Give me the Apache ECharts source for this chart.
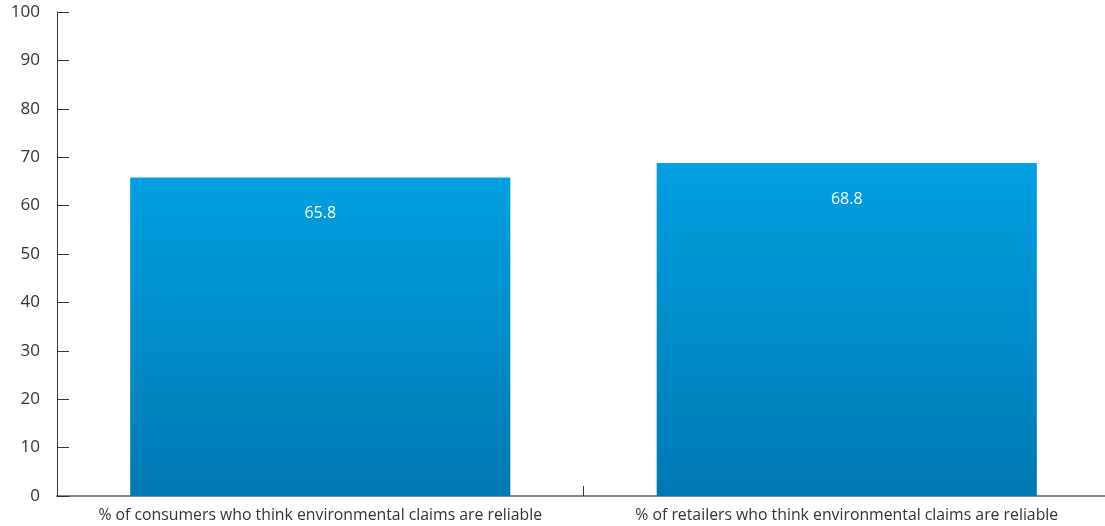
<!DOCTYPE html>
<html>
<head>
<meta charset="utf-8">
<script src="https://cdn.jsdelivr.net/npm/echarts@6/dist/echarts.min.js"></script>
<style>
  html, body { margin: 0; padding: 0; background: #fff; }
  #chart { width: 1105px; height: 526px; }
</style>
</head>
<body>
<div id="chart"></div>
<script>
// Share of respondents who consider environmental claims reliable
const categories = [
  '% of consumers who think environmental claims are reliable',
  '% of retailers who think environmental claims are reliable'
];
const values = [65.8, 68.8];
const yMin = 0;
const yMax = 100;
const yStep = 10;

const chart = echarts.init(document.getElementById('chart'), null, { renderer: 'canvas' });

const barColor = new echarts.graphic.LinearGradient(0, 0, 0, 1, [
  { offset: 0, color: '#009fe2' },
  { offset: 1, color: '#0079b3' }
]);

chart.setOption({
  animation: false,
  textStyle: { fontFamily: 'Open Sans' },
  grid: {
    left: 57, width: 1053, top: 12, height: 484,
    containLabel: false,
    outerBoundsMode: 'none'
  },
  xAxis: {
    type: 'category',
    data: categories,
    boundaryGap: true,
    axisLine: { show: true, lineStyle: { color: '#858585', width: 2 } },
    axisTick: { show: true, inside: true, length: 10, lineStyle: { color: '#333', width: 1 } },
    axisLabel: { color: '#333', fontSize: 15.8, margin: 11, interval: 0 }
  },
  yAxis: {
    type: 'value',
    min: yMin,
    max: yMax,
    interval: yStep,
    axisLine: { show: true, lineStyle: { color: '#333', width: 1 } },
    axisTick: { show: true, inside: true, length: 12, lineStyle: { color: '#333', width: 1 } },
    axisLabel: { color: '#333', fontSize: 17, margin: 17 },
    splitLine: { show: false }
  },
  series: [{
    type: 'bar',
    data: values,
    barWidth: '72.2%',
    itemStyle: { color: barColor },
    label: {
      show: true,
      position: 'insideTop',
      distance: 28,
      color: '#fff',
      fontSize: 16,
      formatter: p => p.value.toFixed(1)
    }
  }]
});
</script>
</body>
</html>
